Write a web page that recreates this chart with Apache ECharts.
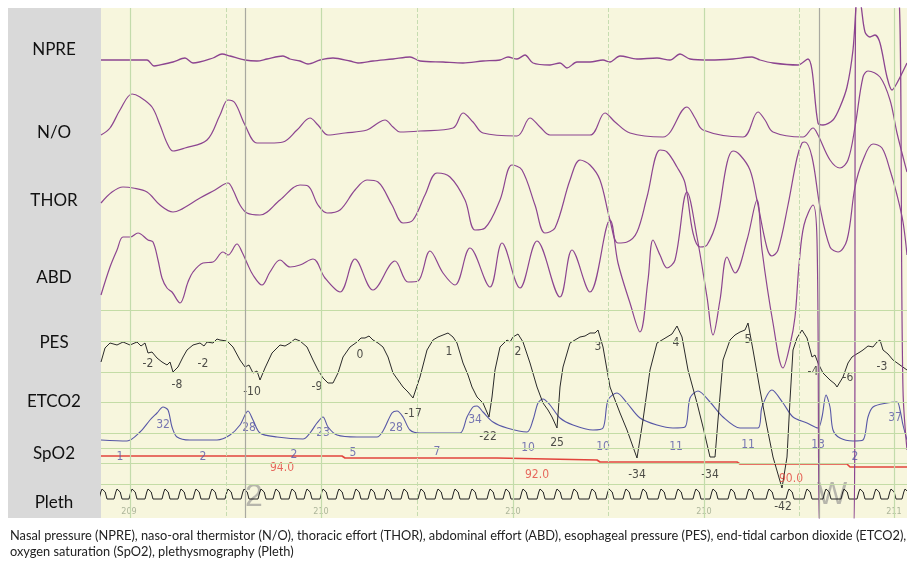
<!DOCTYPE html>
<html>
<head>
<meta charset="utf-8">
<script src="https://cdn.jsdelivr.net/npm/echarts@6/dist/echarts.min.js"></script>
<style>
html,body{margin:0;padding:0;background:#fff;}
#c{width:907px;height:562px;}
</style>
</head>
<body>
<div id="c"></div>
<script>
// ---- channel names ----
const channelNames = ['NPRE', 'N/O', 'THOR', 'ABD', 'PES', 'ETCO2', 'SpO2', 'Pleth'];

// ---- signals: [sample, display units (downward)] ----
const npre = [[101,60],[120,60],[147,60],[154,66],[160,65],[173,62],[185,58],[193,63],[213,58],[222,54],[230,56],[245,60],[257,61],[267,59],[283,56],[290,59],[300,61],[308,64],[320,60],[333,58],[350,61],[358,63],[373,61],[393,59],[410,57],[420,61],[443,62],[463,63],[483,61],[500,60],[508,57],[517,59],[525,55],[533,63],[550,65],[560,63],[567,68],[577,62],[590,62],[603,60],[610,62],[620,56],[637,59],[657,58],[670,60],[680,54],[690,59],[710,60],[733,59],[752,57],[760,60],[773,63],[798,65],[808,59],[812,70],[818,123],[823,125],[833,120],[840,107],[847,87],[853,50],[858,-10],[861,5],[865,32],[870,37],[875,35],[880,43],[887,77],[892,90],[897,83],[907,63]];
const nasoOral = [[101,135],[110,128],[120,110],[132,94],[140,97],[152,107],[160,125],[167,143],[173,151],[185,148],[207,140],[220,115],[228,100],[235,103],[245,125],[257,143],[270,143],[283,142],[297,130],[310,118],[318,125],[328,135],[345,133],[367,130],[378,123],[385,120],[393,127],[400,132],[420,131],[453,128],[463,113],[473,122],[483,133],[517,136],[530,118],[540,127],[550,135],[590,135],[605,113],[615,122],[630,133],[663,137],[687,107],[695,118],[703,130],[743,137],[758,112],[765,120],[773,132],[803,137],[813,128],[818,135],[830,160],[840,168],[848,160],[855,127],[863,77],[868,71],[880,77],[890,100],[897,133],[907,172]];
const thor = [[101,203],[112,192],[123,187],[133,188],[147,192],[160,205],[173,212],[180,210],[200,198],[215,190],[228,183],[233,190],[240,205],[247,213],[260,215],[280,200],[300,185],[308,186],[318,205],[327,213],[340,210],[355,190],[367,180],[378,182],[392,205],[403,223],[413,220],[425,195],[437,173],[450,177],[465,200],[475,230],[485,228],[500,200],[512,165],[522,170],[535,205],[545,233],[555,228],[570,180],[580,160],[590,165],[600,180],[610,220],[618,243],[627,242],[637,232],[647,197],[660,150],[667,152],[677,167],[685,183],[693,233],[700,247],[707,245],[717,220],[727,163],[733,151],[740,155],[750,170],[757,200],[767,248],[772,256],[778,250],[788,205],[797,158],[802,143],[805,142],[812,157],[820,207],[830,247],[838,252],[847,240],[855,187],[863,160],[873,144],[882,148],[890,170],[897,195],[903,222],[907,255]];
const abd = [[101,295],[110,267],[117,250],[123,237],[130,237],[138,233],[148,240],[153,242],[158,260],[162,278],[167,288],[172,292],[180,303],[188,282],[193,272],[203,263],[213,262],[223,252],[228,255],[237,244],[242,252],[247,263],[253,275],[262,285],[270,272],[280,260],[290,267],[300,265],[313,259],[325,278],[340,292],[355,259],[373,290],[395,261],[408,282],[418,281],[430,251],[443,273],[455,285],[470,248],[490,287],[502,243],[520,288],[537,241],[560,297],[572,250],[590,292],[610,220],[618,263],[630,303],[640,332],[648,280],[653,240],[660,255],[667,268],[675,260],[687,192],[697,237],[707,297],[713,335],[720,300],[727,257],[735,273],[747,240],[757,200],[762,250],[773,323],[783,368],[790,345],[795,317],[799,265],[804,225],[813,205],[817,240],[821,540],[853,540],[857,-20],[897,-20],[903,390],[907,450]];
const pes = [[101,362],[105,348],[110,343],[117,345],[123,342],[130,345],[137,342],[141,346],[145,343],[148,353],[152,352],[157,358],[162,362],[167,365],[170,362],[173,372],[178,367],[183,357],[187,350],[193,345],[200,343],[204,346],[207,342],[213,343],[217,339],[220,340],[227,341],[233,347],[240,360],[245,367],[249,365],[253,373],[257,371],[260,380],[265,368],[272,353],[276,349],[280,345],[285,346],[290,343],[295,339],[300,341],[307,347],[313,360],[318,370],[323,378],[328,383],[333,383],[338,373],[343,357],[350,347],[357,342],[361,338],[365,338],[369,336],[373,340],[378,343],[383,347],[388,357],[393,373],[398,380],[403,387],[408,392],[413,398],[420,377],[427,350],[433,340],[438,337],[443,335],[448,333],[453,337],[457,343],[463,363],[468,375],[472,387],[477,397],[483,403],[489,417],[492,397],[495,370],[500,347],[507,340],[510,342],[513,337],[518,334],[523,342],[530,363],[537,387],[543,403],[548,410],[552,417],[557,428],[560,387],[563,367],[570,343],[575,340],[580,337],[585,336],[590,333],[595,333],[598,330],[603,347],[610,387],[615,400],[620,413],[627,430],[637,458],[643,420],[650,370],[657,343],[662,340],[667,337],[672,334],[677,326],[682,337],[688,370],[697,403],[703,427],[710,457],[715,457],[718,420],[723,360],[730,340],[735,335],[740,332],[745,330],[748,323],[753,350],[760,390],[767,427],[773,457],[782,488],[787,457],[790,400],[793,350],[797,338],[802,330],[807,338],[812,357],[815,355],[818,363],[823,373],[830,380],[835,384],[837,387],[843,377],[848,363],[852,357],[855,355],[860,352],[863,350],[868,346],[873,347],[877,342],[880,340],[883,350],[888,354],[893,360],[900,365],[907,370]];
const etco2 = [[101,440],[127,441],[140,432],[150,420],[157,413],[163,407],[168,410],[172,427],[177,437],[190,440],[217,440],[230,435],[240,425],[248,411],[253,420],[260,433],[277,437],[303,439],[310,433],[317,423],[323,417],[328,427],[337,435],[357,437],[377,437],[383,431],[392,413],[397,411],[403,417],[410,430],[420,433],[437,433],[460,433],[467,417],[473,407],[477,406],[483,412],[493,422],[507,428],[527,432],[533,420],[538,403],[543,399],[550,405],[560,418],[573,425],[593,430],[603,428],[608,400],[617,393],[627,403],[640,418],[657,425],[673,428],[685,427],[690,398],[698,391],[710,402],[723,417],[740,428],[758,428],[762,407],[772,390],[783,403],[793,417],[807,423],[818,428],[822,417],[826,395],[830,407],[833,430],[840,438],[853,441],[863,440],[868,417],[873,407],[887,403],[897,402],[900,410],[903,425],[907,440]];
const spo2 = [[101,456],[342,456],[345,458],[497,458],[498,460],[597,460],[600,462],[737,462],[740,464],[847,464],[850,467],[907,467]];
// pleth beat peak times (samples)
const plethBeats = [103,118,133,149,166,182,197,213,229,245,262,277,293,308,324,340,357,372,388,405,422,439,456,473,491,507,524,541,558,575,593,610,627,644,662,679,697,714,732,750,770,790,808,827,845,861,877,892,906];
const plethBase = 499, plethPeak = 489;

// ---- annotation numbers ----
const pesLabels = [[148,364,'-2'],[177,385,'-8'],[203,364,'-2'],[252,392,'-10'],[317,387,'-9'],[360,355,'0'],[449,352,'1'],[413,414,'-17'],[488,437,'-22'],[518,352,'2'],[557,443,'25'],[598,347,'3'],[637,475,'-34'],[676,343,'4'],[710,475,'-34'],[748,340,'5'],[783,507,'-42'],[813,372,'-4'],[848,378,'-6'],[882,367,'-3']];
const etcoLabels = [[163,425,'32'],[249,428,'28'],[323,433,'23'],[396,428,'28'],[475,420,'34'],[528,448,'10'],[603,447,'10'],[676,447,'11'],[748,445,'11'],[818,445,'13'],[895,418,'37'],[120,457,'1'],[203,457,'2'],[294,455,'2'],[353,453,'5'],[437,452,'7'],[855,457,'2']];
const spo2Labels = [[282,468,'94.0'],[537,475,'92.0'],[791,479,'90.0']];
const epochLabels = [[129,512,'209'],[321,512,'210'],[513,512,'210'],[704,512,'210'],[894,512,'211']];
const stageMarks = [[254,497,'2'],[832,495,'W']];

// ---- grid lines ----
const epochLines = [130, 321, 513, 704, 894];
const halfEpochLines = [226, 417, 608, 799];
const stageLines = [245, 819];
const hLines = [310, 341, 372, 402, 433, 448, 463, 484];

const caption1 = 'Nasal pressure (NPRE), naso-oral thermistor (N/O), thoracic effort (THOR), abdominal effort (ABD), esophageal pressure (PES), end-tidal carbon dioxide (ETCO2),';
const caption2 = 'oxygen saturation (SpO2), plethysmography (Pleth)';

// layout of left labels
const labelCenters = [50, 133, 201, 278, 343, 402, 454, 503];

function plethSeries() {
  const pts = [];
  plethBeats.forEach(b => {
    pts.push([b - 4, plethBase], [b - 2.2, plethPeak + 3], [b - 1, plethPeak], [b + 1, plethPeak], [b + 2.2, plethPeak + 3], [b + 4, plethBase]);
  });
  return pts;
}

const purple = '#8c4590';
const narrow = "'Liberation Sans Narrow','DejaVu Sans Condensed','Liberation Sans',sans-serif";

function vLines(xs, color, type, width) {
  return {
    type: 'line', data: [[101, 8]], symbol: 'none', silent: true, lineStyle: {opacity: 0}, z: 1,
    markLine: {
      silent: true, symbol: ['none', 'none'], label: {show: false}, animation: false,
      lineStyle: {color: color, type: type, width: width},
      data: xs.map(x => ({xAxis: x}))
    }
  };
}
function hLineSeries(ys) {
  return {
    type: 'line', data: [[101, 8]], symbol: 'none', silent: true, lineStyle: {opacity: 0}, z: 1,
    markLine: {
      silent: true, symbol: ['none', 'none'], label: {show: false}, animation: false,
      lineStyle: {color: '#c4dca6', type: 'solid', width: 1},
      data: ys.map(y => ({yAxis: y}))
    }
  };
}
function sig(data, color, width, smooth) {
  return {type: 'line', data: data, symbol: 'none', clip: true, smooth: smooth,
    lineStyle: {color: color, width: width}, z: 3, silent: true};
}
function textSeries(data, color, size, family, z, weight) {
  return {
    type: 'scatter', data: data, symbolSize: 0, silent: true, z: z || 4, clip: false,
    label: {show: true, position: 'inside', formatter: p => p.data[2], color: color, fontSize: size, fontFamily: family, fontWeight: weight || 'normal'}
  };
}

const graphics = [
  {type: 'rect', shape: {x: 8, y: 8, width: 93, height: 510}, style: {fill: '#d9d9d9'}, z: -10, silent: true}
];
channelNames.forEach((n, i) => {
  graphics.push({type: 'text', x: 54, y: labelCenters[i], style: {text: n, fill: '#111', font: '17px Lato', textAlign: 'center', textVerticalAlign: 'middle'}, silent: true});
});
graphics.push({type: 'text', x: 10, y: 536, style: {text: caption1, fill: '#222', font: '12.8px Lato', textVerticalAlign: 'middle'}, silent: true});
graphics.push({type: 'text', x: 10, y: 552, style: {text: caption2, fill: '#222', font: '12.8px Lato', textVerticalAlign: 'middle'}, silent: true});

const chart = echarts.init(document.getElementById('c'));
chart.setOption({
  animation: false,
  grid: {left: 101, right: 0, top: 8, bottom: 44, show: true, backgroundColor: '#f7f6dd', borderWidth: 0},
  xAxis: {type: 'value', min: 101, max: 907, show: false},
  yAxis: {type: 'value', min: 8, max: 518, inverse: true, show: false},
  graphic: graphics,
  series: [
    hLineSeries(hLines),
    vLines(halfEpochLines, '#c6dcb0', 'dashed', 1),
    vLines(epochLines, '#c3dbab', 'solid', 1.2),
    vLines(stageLines, '#a9a9a0', 'solid', 1.2),
    textSeries(stageMarks, 'rgba(140,140,140,0.75)', 32, "'Liberation Sans','DejaVu Sans',sans-serif", 2),
    sig(spo2, '#e2443c', 1.6, false),
    sig(plethSeries(), '#222', 1, false),
    sig(etco2, '#5656a6', 1.1, 0.3),
    sig(pes, '#2a2a2a', 1, false),
    sig(npre, purple, 1.3, 0.3),
    sig(nasoOral, purple, 1.2, 0.35),
    sig(thor, purple, 1.2, 0.35),
    sig(abd, purple, 1.2, 0.35),
    textSeries(pesLabels, '#222', 12, narrow),
    textSeries(etcoLabels, '#5656a6', 12, narrow),
    textSeries(spo2Labels, '#e2443c', 12, narrow),
    textSeries(epochLabels, '#9aa58a', 9, narrow)
  ]
});
</script>
</body>
</html>
